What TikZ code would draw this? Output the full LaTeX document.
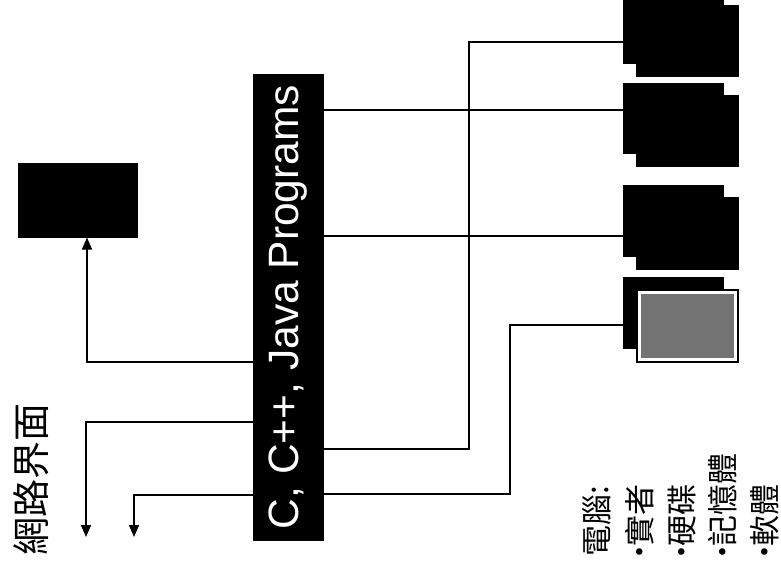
\documentclass[tikz,border=0pt]{standalone}
\usepackage{fontspec}
\setmainfont{Liberation Sans}
\newfontfamily\cjk{Noto Sans CJK TC}
\newcommand{\bul}{\makebox[10pt][c]{‧}}
\usetikzlibrary{arrows.meta}
\begin{document}
\begin{tikzpicture}[x=1pt,y=-1pt,
  blk/.style={draw=black,fill=black,inner sep=0pt,line width=1pt},
  conn/.style={line width=1.4pt,black},
  arr/.style={conn,-{Triangle[length=12pt,width=10pt]}},
  cjklabel/.style={rotate=90,anchor=west,inner sep=0pt,font=\cjk\fontsize{#1}{#1}\selectfont}]
\useasboundingbox (0,0) rectangle (781,573);
\fill[white] (0,0) rectangle (781,573);
% boxes
\node[blk,minimum width=119pt,minimum height=74pt] (small) at (77.5,200) {};
\node[blk,minimum width=70pt,minimum height=466pt] (prog) at (288,307)
  {\rotatebox{90}{\color{white}\fontsize{42.5}{42.5}\selectfont C, C++, Java Programs}};
% computer stacks
\node[blk,minimum width=100pt,minimum height=63pt] (b1) at (673,31.5) {};
\node[blk,minimum width=102pt,minimum height=71pt] (f1) at (687,40.5) {};
\node[blk,minimum width=100pt,minimum height=70pt] (b2) at (673,118) {};
\node[blk,minimum width=102pt,minimum height=71pt] (f2) at (687,130.5) {};
\node[blk,minimum width=100pt,minimum height=71pt] (b3) at (673,220.5) {};
\node[blk,minimum width=102pt,minimum height=72pt] (f3) at (687,233) {};
\node[blk,minimum width=100pt,minimum height=71pt] (b4) at (673,312.5) {};
\node[draw=black,fill=white,line width=1.6pt,inner sep=0pt,minimum width=101pt,minimum height=72pt] (f4) at (687.5,326) {};
\node[fill=black!55,inner sep=0pt,minimum width=93pt,minimum height=64pt] (g4) at (f4.center) {};
% connectors
\coordinate (d1) at (86,537);
\coordinate (d2) at (134,537);
\draw[arr] (prog.west |- 0,362) -| ([xshift=9.5pt]small.south);
\draw[arr] (prog.west |- 0,422) -| (d1);
\draw[arr] (prog.west |- 0,495) -| (d2);
\draw[conn] (prog.east |- 0,449) -| (469,42) -- (b1.west |- 0,42);
\draw[conn] (prog.east |- 0,110) -- (b2.west |- 0,110);
\draw[conn] (prog.east |- 0,236) -- (b3.west |- 0,236);
\draw[conn] (prog.east |- 0,494) -| (510,325) -- (b4.west |- 0,325);
% labels
\node[cjklabel=38] (net) at (31,556) {網路界面};
\node[cjklabel=31] (c1) at (597,557) {電腦:};
\node[cjklabel=31] (c2) at (640,557) {\bul 實者};
\node[cjklabel=31] (c3) at (682,557) {\bul 硬碟};
\node[cjklabel=31] (c4) at (723,557) {\bul 記憶體};
\node[cjklabel=31] (c5) at (765,557) {\bul 軟體};
\end{tikzpicture}
\end{document}
